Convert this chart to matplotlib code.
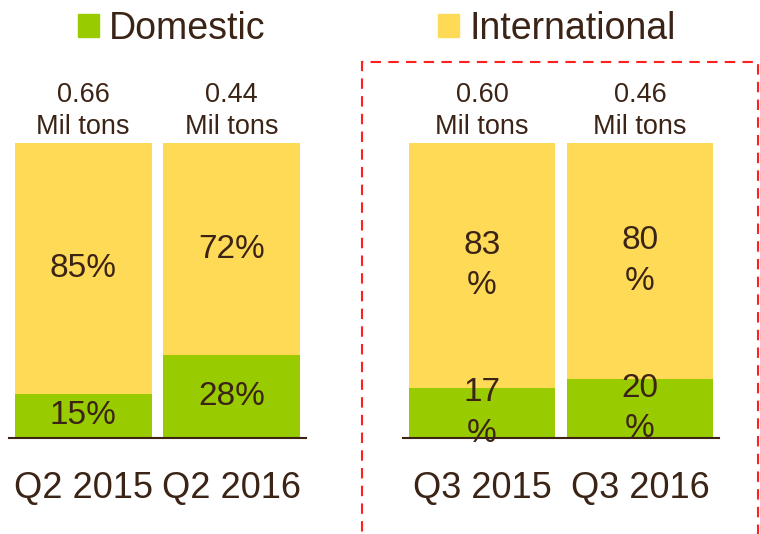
import matplotlib
matplotlib.use("Agg")
import matplotlib.pyplot as plt
from matplotlib.patches import Patch, Rectangle

plt.rcParams["font.family"] = ["Liberation Sans", "DejaVu Sans"]

# data
left_periods = ["Q2 2015", "Q2 2016"]
left_domestic = [15, 28]
left_international = [85, 72]
left_volume = ["0.66", "0.44"]

right_periods = ["Q3 2015", "Q3 2016"]
right_domestic = [17, 20]
right_international = [83, 80]
right_volume = ["0.60", "0.46"]

GREEN = "#99CC00"
YELLOW = "#FFDA57"
TEXT = "#3B2416"

fig = plt.figure(figsize=(7.6, 5.34), dpi=100)


def draw_group(rect, periods, domestic, international, volume, wrap):
    ax = fig.add_axes(rect)
    x = list(range(len(periods)))
    ax.bar(x, domestic, width=0.925, color=GREEN)
    ax.bar(x, international, width=0.925, bottom=domestic, color=YELLOW)
    for xi, d, i, v in zip(x, domestic, international, volume):
        sep = "\n" if wrap else ""
        ax.text(xi, d / 2, f"{d}{sep}%", ha="center", va="center",
                fontsize=24, color=TEXT, linespacing=1.4)
        ax.text(xi, d + i / 2, f"{i}{sep}%", ha="center", va="center",
                fontsize=24, color=TEXT, linespacing=1.4)
        ax.annotate(f"{v}\nMil tons", (xi, 100), xytext=(0, 2),
                    textcoords="offset points", ha="center", va="bottom",
                    fontsize=19.5, color=TEXT, linespacing=1.3,
                    annotation_clip=False)
    ax.set_xlim(-0.5, len(periods) - 0.5)
    ax.set_ylim(0, 100)
    ax.set_xticks(x, periods)
    ax.tick_params(axis="x", length=0, pad=24, labelsize=26, labelcolor=TEXT)
    ax.set_yticks([])
    for side in ["left", "right", "top"]:
        ax.spines[side].set_visible(False)
    ax.spines["bottom"].set_color(TEXT)
    ax.spines["bottom"].set_linewidth(1.5)
    ax.patch.set_visible(False)
    return ax


draw_group([9 / 760, 96 / 534, 297 / 760, 295 / 534],
           left_periods, left_domestic, left_international, left_volume, False)
draw_group([403 / 760, 96 / 534, 316 / 760, 295 / 534],
           right_periods, right_domestic, right_international, right_volume, True)

# dashed frame round the second group
fig.patches.append(Rectangle((362 / 760, -0.05), 396 / 760, (534 - 62) / 534 + 0.05,
                             transform=fig.transFigure, fill=False,
                             edgecolor="#FF1F1F", linewidth=1.5,
                             linestyle=(0, (5, 3.5))))

handles = [Patch(color=GREEN, label="Domestic"),
           Patch(color=YELLOW, label="International")]
fig.legend(handles=handles, loc="upper left", bbox_to_anchor=(78 / 760, 1 - 11 / 534),
           ncol=2, frameon=False, fontsize=27, handlelength=0.55, handleheight=0.55,
           handletextpad=0.28, columnspacing=4.6, borderpad=0, borderaxespad=0,
           labelcolor=TEXT)

fig.savefig("out.png", dpi=100)
